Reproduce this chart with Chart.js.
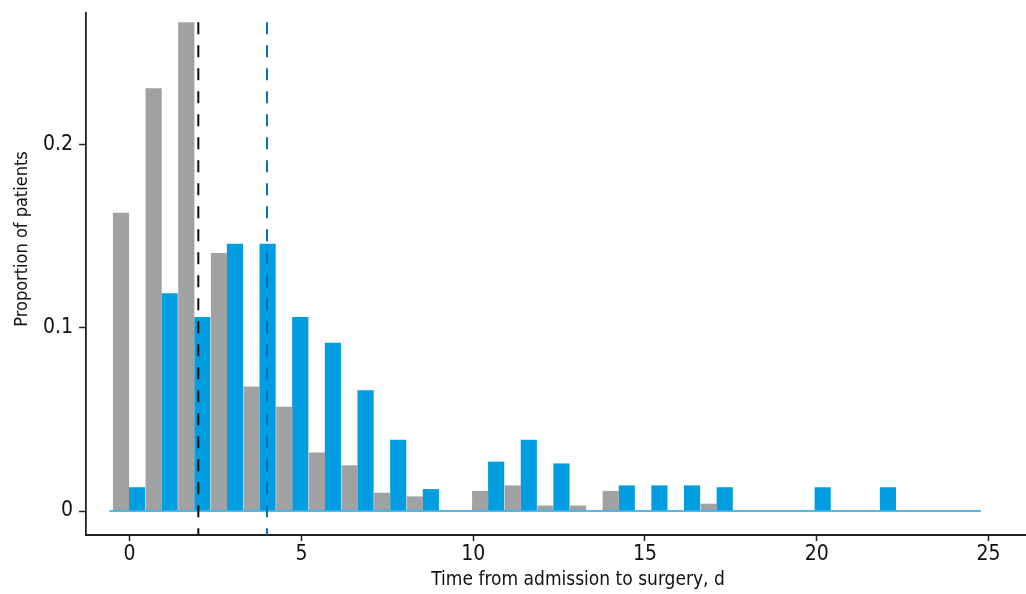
<!DOCTYPE html>
<html>
<head>
<meta charset="utf-8">
<script src="https://cdn.jsdelivr.net/npm/chart.js@4/dist/chart.umd.min.js"></script>
<style>
  html, body { margin: 0; padding: 0; background: #fff; overflow: hidden; }
  #wrap { width: 1070px; height: 594px; }
</style>
</head>
<body>
<div id="wrap"><canvas id="plots" width="1070" height="594"></canvas></div>
<script>
// Days from admission to surgery (histogram bins)
var days = [0, 1, 2, 3, 4, 5, 6, 7, 8, 9, 10, 11, 12, 13, 14, 15, 16, 17, 18, 19, 20, 21, 22, 23];
// Proportion of patients per day, grey group and blue group
var greyShare = [0.163, 0.231, 0.267, 0.141, 0.068, 0.057, 0.032, 0.025, 0.010, 0.008, 0, 0.011,
                 0.014, 0.003, 0.003, 0.011, 0, 0, 0.004, 0, 0, 0, 0, 0];
var blueShare = [0.013, 0.119, 0.106, 0.146, 0.146, 0.106, 0.092, 0.066, 0.039, 0.012, 0, 0.027,
                 0.039, 0.026, 0, 0.014, 0.014, 0.014, 0.013, 0, 0, 0.013, 0, 0.013];
// Median lines (grey group, blue group)
var medians = [2, 4];
var dashTop = 0.267;
// Zero line under the bars
var baseline = [-0.59, 24.78];
// Tick labels
var xTicks = [0, 5, 10, 15, 20, 25];
var yTicks = [0, 0.1, 0.2];
var yTitle = 'Proportion of patients';

var yMin = -0.0131, yMax = 0.2721;
var FONT = "'DejaVu Sans Condensed', 'Liberation Sans Narrow', sans-serif";

var plots = document.getElementById("plots");

function dayTicks(s) { s.ticks = days.map(function (v) { return {value: v}; }); }

// y axis title sits a bit above the middle of the axis in the original
var yTitlePlugin = {
  id: 'yTitle',
  afterDraw: function (chart) {
    var ctx = chart.ctx;
    ctx.save();
    ctx.translate(22, 239);
    ctx.rotate(-Math.PI / 2);
    ctx.font = "18px " + FONT;
    ctx.fillStyle = '#111';
    ctx.textAlign = 'center';
    ctx.textBaseline = 'middle';
    ctx.fillText(yTitle, 0, 0);
    ctx.restore();
  }
};

new Chart(plots, {
  type: 'bar',
  data: {
    labels: days,
    datasets: [
      {
        label: 'Grey group',
        data: greyShare,
        xAxisID: 'xg',
        backgroundColor: '#a0a1a3',
        borderWidth: 0,
        grouped: false,
        categoryPercentage: 1,
        barPercentage: 0.495,
        order: 2
      },
      {
        label: 'Blue group',
        data: blueShare,
        xAxisID: 'xbl',
        backgroundColor: '#009ee0',
        borderWidth: 0,
        grouped: false,
        categoryPercentage: 1,
        barPercentage: 0.495,
        order: 2
      },
      {
        type: 'line',
        label: 'zero',
        data: [{x: baseline[0], y: 0}, {x: baseline[1], y: 0}],
        xAxisID: 'x',
        borderColor: 'rgba(40,170,228,0.8)',
        borderWidth: 2,
        pointRadius: 0,
        order: 1
      },
      {
        type: 'line',
        label: 'Median grey',
        data: [{x: medians[0], y: dashTop}, {x: medians[0], y: yMin}],
        xAxisID: 'x',
        borderColor: '#111',
        borderWidth: 2,
        borderDash: [12, 11],
        pointRadius: 0,
        clip: false,
        order: 0
      },
      {
        type: 'line',
        label: 'Median blue',
        data: [{x: medians[1], y: dashTop}, {x: medians[1], y: yMin}],
        xAxisID: 'x',
        borderColor: '#0a6db3',
        borderWidth: 2,
        borderDash: [12, 11],
        pointRadius: 0,
        clip: false,
        order: 0
      }
    ]
  },
  options: {
    responsive: false,
    animation: false,
    events: [],
    layout: { padding: { top: 13, left: 0, right: 0, bottom: 0 } },
    plugins: { legend: { display: false }, tooltip: { enabled: false } },
    scales: {
      // hidden axes that place the grey and blue bars of each day side by side
      xg: { type: 'linear', display: false, offset: false, min: -1.072, max: 29.066, afterBuildTicks: dayTicks },
      xbl: { type: 'linear', display: false, offset: false, min: -1.562, max: 28.576, afterBuildTicks: dayTicks },
      x: {
        type: 'linear',
        position: 'bottom',
        offset: false,
        min: -1.269,
        max: 27.37,
        afterBuildTicks: function (s) { s.ticks = xTicks.map(function (v) { return {value: v}; }); },
        afterFit: function (s) { s.height = 59; s.paddingLeft = 0; s.paddingRight = 0; },
        ticks: {
          color: '#111',
          padding: 1,
          maxRotation: 0,
          font: { family: FONT, size: 21 },
          callback: function (v) { return String(v); }
        },
        grid: { offset: false, drawOnChartArea: false, drawTicks: true, tickLength: 6, tickColor: '#222', tickWidth: 1.5 },
        border: { display: true, color: '#222', width: 2 },
        title: {
          display: true,
          text: 'Time from admission to surgery, d',
          color: '#111',
          font: { family: FONT, size: 19 },
          padding: { top: 0, bottom: 2.5 }
        }
      },
      y: {
        type: 'linear',
        min: yMin,
        max: yMax,
        afterBuildTicks: function (s) { s.ticks = yTicks.map(function (v) { return {value: v}; }); },
        afterFit: function (s) { s.width = 86; s.paddingTop = 0; s.paddingBottom = 0; },
        ticks: {
          color: '#111',
          padding: 6,
          font: { family: FONT, size: 21 },
          callback: function (v) { return String(v); }
        },
        grid: { drawOnChartArea: false, drawTicks: true, tickLength: 7, tickColor: '#222', tickWidth: 1.5 },
        border: { display: true, color: '#222', width: 1.8 }
      }
    }
  },
  plugins: [yTitlePlugin]
});
</script>
</body>
</html>
